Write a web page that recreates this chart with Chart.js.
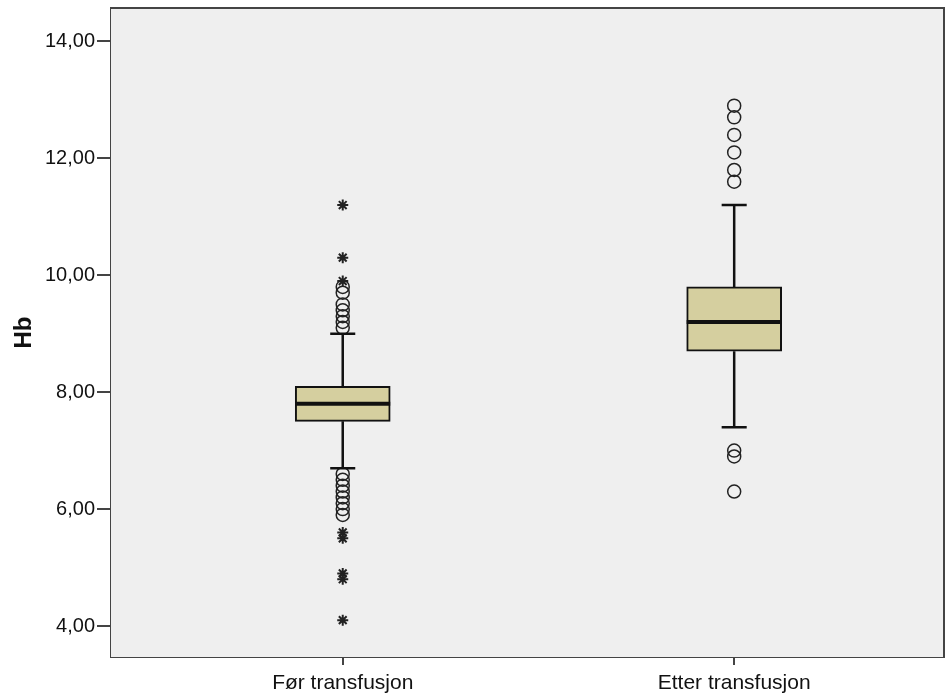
<!DOCTYPE html>
<html>
<head>
<meta charset="utf-8">
<script src="https://cdn.jsdelivr.net/npm/chart.js@4/dist/chart.umd.min.js"></script>
<style>
  body { margin: 0; background: #fff; }
  #wrap { width: 945px; height: 700px; overflow: hidden; }
</style>
</head>
<body>
<div id="wrap"><canvas id="hbChart" width="945" height="700"></canvas></div>
<script>
const categories = ['Før transfusjon', 'Etter transfusjon'];
const q1 = [7.5, 8.7];
const median = [7.8, 9.2];
const q3 = [8.1, 9.8];
const whiskerLow = [6.7, 7.4];
const whiskerHigh = [9.0, 11.2];
const outliersBefore = [9.8, 9.7, 9.5, 9.4, 9.3, 9.2, 9.1, 6.6, 6.5, 6.4, 6.3, 6.2, 6.1, 6.0, 5.9];
const extremesBefore = [11.2, 10.3, 9.9, 5.6, 5.5, 4.9, 4.8, 4.1];
const outliersAfter = [12.9, 12.7, 12.4, 12.1, 11.8, 11.6, 7.0, 6.9, 6.3];
const yTicks = [4, 6, 8, 10, 12, 14];

const BOX_FILL = '#d5cf9f';
const CAP_HALF = 0.032;

// background of plot area + top/right border
const plotBg = {
  id: 'plotBg',
  beforeDatasetsDraw(chart) {
    const { ctx, chartArea: a } = chart;
    ctx.save();
    ctx.fillStyle = '#efefef';
    ctx.fillRect(a.left, a.top, a.right - a.left, a.bottom - a.top);
    ctx.strokeStyle = '#444';
    ctx.lineWidth = 2;
    ctx.beginPath();
    ctx.moveTo(a.left, a.top);
    ctx.lineTo(a.right, a.top);
    ctx.lineTo(a.right, a.bottom);
    ctx.stroke();
    ctx.restore();
  }
};

// whiskers and median lines
const boxParts = {
  id: 'boxParts',
  afterDatasetsDraw(chart) {
    const { ctx } = chart;
    const xs = chart.scales.x, ys = chart.scales.y;
    const half = chart.getDatasetMeta(0).data[0].width / 2;
    ctx.save();
    ctx.strokeStyle = '#111';
    categories.forEach((c, i) => {
      const x = xs.getPixelForValue(i + 1);
      ctx.lineWidth = 2.5;
      ctx.beginPath();
      ctx.moveTo(x, ys.getPixelForValue(q3[i]));
      ctx.lineTo(x, ys.getPixelForValue(whiskerHigh[i]));
      ctx.moveTo(x, ys.getPixelForValue(q1[i]));
      ctx.lineTo(x, ys.getPixelForValue(whiskerLow[i]));
      [whiskerHigh[i], whiskerLow[i]].forEach(v => {
        const y = ys.getPixelForValue(v);
        ctx.moveTo(xs.getPixelForValue(i + 1 - CAP_HALF), y);
        ctx.lineTo(xs.getPixelForValue(i + 1 + CAP_HALF), y);
      });
      ctx.stroke();
      ctx.lineWidth = 4;
      ctx.beginPath();
      const ym = ys.getPixelForValue(median[i]);
      ctx.moveTo(x - half, ym);
      ctx.lineTo(x + half, ym);
      ctx.stroke();
    });
    ctx.restore();
  }
};

const family = 'Arial, "Liberation Sans", sans-serif';

new Chart(document.getElementById('hbChart'), {
  type: 'bar',
  data: {
    datasets: [
      {
        label: 'box',
        data: categories.map((c, i) => ({ x: i + 1, y: [q1[i], q3[i]] })),
        backgroundColor: BOX_FILL,
        borderColor: '#111',
        borderWidth: 2,
        borderSkipped: false,
        barThickness: 95
      },
      {
        type: 'scatter',
        label: 'outliers before',
        data: outliersBefore.map(v => ({ x: 1, y: v })),
        pointStyle: 'circle',
        pointRadius: 6.5,
        backgroundColor: 'rgba(0,0,0,0)',
        borderColor: '#222',
        borderWidth: 1.5
      },
      {
        type: 'scatter',
        label: 'extremes before',
        data: extremesBefore.map(v => ({ x: 1, y: v })),
        pointStyle: 'star',
        pointRadius: 5.5,
        borderColor: '#222',
        borderWidth: 2
      },
      {
        type: 'scatter',
        label: 'outliers after',
        data: outliersAfter.map(v => ({ x: 2, y: v })),
        pointStyle: 'circle',
        pointRadius: 6.5,
        backgroundColor: 'rgba(0,0,0,0)',
        borderColor: '#222',
        borderWidth: 1.5
      }
    ]
  },
  options: {
    responsive: false,
    animation: false,
    layout: { autoPadding: false, padding: { top: 8, left: 0, right: 1, bottom: 0 } },
    plugins: { legend: { display: false }, tooltip: { enabled: false } },
    scales: {
      x: {
        type: 'linear',
        offset: false,
        min: 0.408,
        max: 2.536,
        afterBuildTicks: s => { s.ticks = categories.map((c, i) => ({ value: i + 1 })); },
        afterFit: s => { s.height = 43; s.paddingLeft = 0; s.paddingRight = 0; },
        ticks: {
          callback: v => categories[v - 1],
          color: '#111',
          font: { family: family, size: 21 },
          padding: 6,
          maxRotation: 0
        },
        grid: { offset: false, drawOnChartArea: false, drawTicks: true, tickLength: 8, color: '#444', lineWidth: 2 },
        border: { color: '#444', width: 2 }
      },
      y: {
        min: 3.47,
        max: 14.57,
        afterBuildTicks: s => { s.ticks = yTicks.map(v => ({ value: v })); },
        afterFit: s => { s.width = 111; s.paddingTop = 0; s.paddingBottom = 0; },
        ticks: {
          callback: v => v.toFixed(2).replace('.', ','),
          color: '#111',
          font: { family: family, size: 20 },
          padding: 2
        },
        grid: { drawOnChartArea: false, drawTicks: true, tickLength: 14, color: '#444', lineWidth: 2 },
        border: { color: '#444', width: 2 },
        title: {
          display: true,
          text: 'Hb',
          color: '#111',
          font: { family: family, size: 24, weight: 'bold' },
          padding: { top: 10, bottom: 0 }
        }
      }
    }
  },
  plugins: [plotBg, boxParts]
});
</script>
</body>
</html>
